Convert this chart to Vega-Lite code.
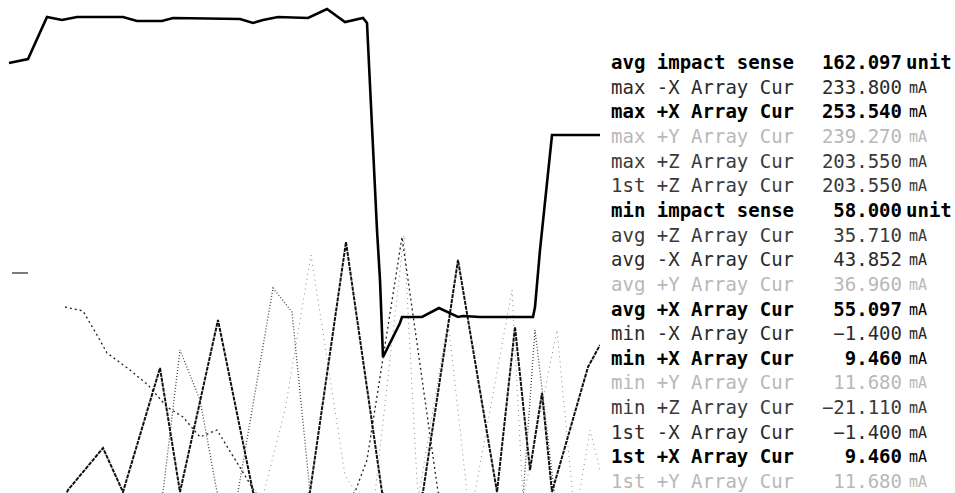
{
  "$schema": "https://vega.github.io/schema/vega-lite/v6.json",
  "padding": 0,
  "spacing": 0,
  "background": "white",
  "config": {"view": {"stroke": null}},
  "datasets": {
    "lines": [
      {"series": "impact", "seg": "a", "t": 9, "v": 430}, {"series": "impact", "seg": "a", "t": 28, "v": 434}, {"series": "impact", "seg": "a", "t": 47, "v": 476}, {"series": "impact", "seg": "a", "t": 62, "v": 473}, {"series": "impact", "seg": "a", "t": 77, "v": 476}, {"series": "impact", "seg": "a", "t": 123, "v": 476}, {"series": "impact", "seg": "a", "t": 137, "v": 472}, {"series": "impact", "seg": "a", "t": 162, "v": 472}, {"series": "impact", "seg": "a", "t": 173, "v": 475}, {"series": "impact", "seg": "a", "t": 240, "v": 474}, {"series": "impact", "seg": "a", "t": 253, "v": 470}, {"series": "impact", "seg": "a", "t": 263, "v": 473}, {"series": "impact", "seg": "a", "t": 278, "v": 476}, {"series": "impact", "seg": "a", "t": 308, "v": 475}, {"series": "impact", "seg": "a", "t": 327, "v": 484}, {"series": "impact", "seg": "a", "t": 345, "v": 471}, {"series": "impact", "seg": "a", "t": 363, "v": 475}, {"series": "impact", "seg": "a", "t": 367, "v": 470}, {"series": "impact", "seg": "a", "t": 377, "v": 263}, {"series": "impact", "seg": "a", "t": 380, "v": 213}, {"series": "impact", "seg": "a", "t": 383, "v": 136}, {"series": "impact", "seg": "a", "t": 400, "v": 170}, {"series": "impact", "seg": "a", "t": 402, "v": 176}, {"series": "impact", "seg": "a", "t": 422, "v": 176}, {"series": "impact", "seg": "a", "t": 439, "v": 185}, {"series": "impact", "seg": "a", "t": 458, "v": 176}, {"series": "impact", "seg": "a", "t": 463, "v": 177}, {"series": "impact", "seg": "a", "t": 480, "v": 176}, {"series": "impact", "seg": "a", "t": 533, "v": 176}, {"series": "impact", "seg": "a", "t": 535, "v": 186}, {"series": "impact", "seg": "a", "t": 540, "v": 243}, {"series": "impact", "seg": "a", "t": 552, "v": 358}, {"series": "impact", "seg": "a", "t": 600, "v": 358},

      {"series": "+X", "seg": "a", "t": 55, "v": -27}, {"series": "+X", "seg": "a", "t": 68, "v": 3}, {"series": "+X", "seg": "a", "t": 103, "v": 45}, {"series": "+X", "seg": "a", "t": 123, "v": 1}, {"series": "+X", "seg": "a", "t": 160, "v": 125}, {"series": "+X", "seg": "a", "t": 180, "v": 1}, {"series": "+X", "seg": "a", "t": 218, "v": 173}, {"series": "+X", "seg": "a", "t": 253, "v": 1}, {"series": "+X", "seg": "a", "t": 282, "v": -37}, {"series": "+X", "seg": "a", "t": 310, "v": 1}, {"series": "+X", "seg": "a", "t": 346, "v": 251}, {"series": "+X", "seg": "a", "t": 382, "v": 1}, {"series": "+X", "seg": "a", "t": 402, "v": -37}, {"series": "+X", "seg": "a", "t": 423, "v": 1}, {"series": "+X", "seg": "a", "t": 458, "v": 233}, {"series": "+X", "seg": "a", "t": 497, "v": 1}, {"series": "+X", "seg": "a", "t": 515, "v": 166}, {"series": "+X", "seg": "a", "t": 530, "v": 23}, {"series": "+X", "seg": "a", "t": 542, "v": 100}, {"series": "+X", "seg": "a", "t": 552, "v": 1}, {"series": "+X", "seg": "a", "t": 588, "v": 126}, {"series": "+X", "seg": "a", "t": 600, "v": 148},

      {"series": "-X", "seg": "a", "t": 12, "v": 220}, {"series": "-X", "seg": "a", "t": 28, "v": 220},
      {"series": "-X", "seg": "b", "t": 65, "v": 186}, {"series": "-X", "seg": "b", "t": 83, "v": 182}, {"series": "-X", "seg": "b", "t": 97, "v": 158}, {"series": "-X", "seg": "b", "t": 107, "v": 140}, {"series": "-X", "seg": "b", "t": 130, "v": 123}, {"series": "-X", "seg": "b", "t": 148, "v": 108}, {"series": "-X", "seg": "b", "t": 167, "v": 86}, {"series": "-X", "seg": "b", "t": 183, "v": 76}, {"series": "-X", "seg": "b", "t": 200, "v": 56}, {"series": "-X", "seg": "b", "t": 217, "v": 63}, {"series": "-X", "seg": "b", "t": 255, "v": 1}, {"series": "-X", "seg": "b", "t": 300, "v": -47}, {"series": "-X", "seg": "b", "t": 355, "v": 1}, {"series": "-X", "seg": "b", "t": 367, "v": 33}, {"series": "-X", "seg": "b", "t": 402, "v": 256}, {"series": "-X", "seg": "b", "t": 438, "v": 1}, {"series": "-X", "seg": "b", "t": 470, "v": -47},

      {"series": "+Z", "seg": "a", "t": 150, "v": -37}, {"series": "+Z", "seg": "a", "t": 163, "v": 1}, {"series": "+Z", "seg": "a", "t": 180, "v": 143}, {"series": "+Z", "seg": "a", "t": 200, "v": 93}, {"series": "+Z", "seg": "a", "t": 217, "v": 1}, {"series": "+Z", "seg": "a", "t": 228, "v": -30}, {"series": "+Z", "seg": "a", "t": 238, "v": 1}, {"series": "+Z", "seg": "a", "t": 273, "v": 205}, {"series": "+Z", "seg": "a", "t": 292, "v": 181}, {"series": "+Z", "seg": "a", "t": 310, "v": 1}, {"series": "+Z", "seg": "a", "t": 330, "v": -47}, {"series": "+Z", "seg": "a", "t": 520, "v": -47}, {"series": "+Z", "seg": "a", "t": 535, "v": 163}, {"series": "+Z", "seg": "a", "t": 543, "v": 96}, {"series": "+Z", "seg": "a", "t": 560, "v": -47},

      {"series": "+Y", "seg": "a", "t": 262, "v": -7}, {"series": "+Y", "seg": "a", "t": 285, "v": 83}, {"series": "+Y", "seg": "a", "t": 311, "v": 238}, {"series": "+Y", "seg": "a", "t": 345, "v": 18}, {"series": "+Y", "seg": "a", "t": 372, "v": -27}, {"series": "+Y", "seg": "a", "t": 404, "v": 258}, {"series": "+Y", "seg": "a", "t": 418, "v": -7}, {"series": "+Y", "seg": "a", "t": 448, "v": 173}, {"series": "+Y", "seg": "a", "t": 470, "v": -27}, {"series": "+Y", "seg": "a", "t": 512, "v": 203}, {"series": "+Y", "seg": "a", "t": 523, "v": -7}, {"series": "+Y", "seg": "a", "t": 557, "v": 163}, {"series": "+Y", "seg": "a", "t": 575, "v": -27}, {"series": "+Y", "seg": "a", "t": 590, "v": 63}, {"series": "+Y", "seg": "a", "t": 600, "v": 23}
    ],
    "stats": [
      {"row": 1, "label": "avg impact sense", "value": 162.097, "unit": "unit", "series": "impact", "bold": true},
      {"row": 2, "label": "max -X Array Cur", "value": 233.8, "unit": "mA", "series": "-X", "bold": false},
      {"row": 3, "label": "max +X Array Cur", "value": 253.54, "unit": "mA", "series": "+X", "bold": true},
      {"row": 4, "label": "max +Y Array Cur", "value": 239.27, "unit": "mA", "series": "+Y", "bold": false},
      {"row": 5, "label": "max +Z Array Cur", "value": 203.55, "unit": "mA", "series": "+Z", "bold": false},
      {"row": 6, "label": "1st +Z Array Cur", "value": 203.55, "unit": "mA", "series": "+Z", "bold": false},
      {"row": 7, "label": "min impact sense", "value": 58.0, "unit": "unit", "series": "impact", "bold": true},
      {"row": 8, "label": "avg +Z Array Cur", "value": 35.71, "unit": "mA", "series": "+Z", "bold": false},
      {"row": 9, "label": "avg -X Array Cur", "value": 43.852, "unit": "mA", "series": "-X", "bold": false},
      {"row": 10, "label": "avg +Y Array Cur", "value": 36.96, "unit": "mA", "series": "+Y", "bold": false},
      {"row": 11, "label": "avg +X Array Cur", "value": 55.097, "unit": "mA", "series": "+X", "bold": true},
      {"row": 12, "label": "min -X Array Cur", "value": -1.4, "unit": "mA", "series": "-X", "bold": false},
      {"row": 13, "label": "min +X Array Cur", "value": 9.46, "unit": "mA", "series": "+X", "bold": true},
      {"row": 14, "label": "min +Y Array Cur", "value": 11.68, "unit": "mA", "series": "+Y", "bold": false},
      {"row": 15, "label": "min +Z Array Cur", "value": -21.11, "unit": "mA", "series": "+Z", "bold": false},
      {"row": 16, "label": "1st -X Array Cur", "value": -1.4, "unit": "mA", "series": "-X", "bold": false},
      {"row": 17, "label": "1st +X Array Cur", "value": 9.46, "unit": "mA", "series": "+X", "bold": true},
      {"row": 18, "label": "1st +Y Array Cur", "value": 11.68, "unit": "mA", "series": "+Y", "bold": false}
    ]
  },
  "hconcat": [
    {
      "width": 600,
      "height": 493,
      "data": {"name": "lines"},
      "encoding": {
        "x": {"field": "t", "type": "quantitative", "scale": {"domain": [0, 600], "nice": false}, "axis": null},
        "y": {"field": "v", "type": "quantitative", "scale": {"domain": [0, 493], "nice": false}, "axis": null},
        "detail": {"field": "seg", "type": "nominal"}
      },
      "layer": [
        {"transform": [{"filter": "datum.series === '+Y'"}], "mark": {"type": "line", "clip": true, "color": "#8a8a8a", "strokeWidth": 1, "strokeDash": [1, 4]}},
        {"transform": [{"filter": "datum.series === '+Z'"}], "mark": {"type": "line", "clip": true, "color": "#444444", "strokeWidth": 1.3, "strokeDash": [1, 2]}},
        {"transform": [{"filter": "datum.series === '-X' && datum.seg === 'b'"}], "mark": {"type": "line", "clip": true, "color": "#222222", "strokeWidth": 1.3, "strokeDash": [2, 3]}},
        {"transform": [{"filter": "datum.series === '-X' && datum.seg === 'a'"}], "mark": {"type": "line", "clip": true, "color": "#333333", "strokeWidth": 1.3}},
        {"transform": [{"filter": "datum.series === '+X'"}], "mark": {"type": "line", "clip": true, "color": "#111111", "strokeWidth": 2, "strokeDash": [4, 1]}},
        {"transform": [{"filter": "datum.series === 'impact'"}], "mark": {"type": "line", "clip": true, "color": "#000000", "strokeWidth": 2.6, "strokeJoin": "miter"}}
      ]
    },
    {
      "width": 355,
      "height": 493,
      "data": {"name": "stats"},
      "encoding": {
        "y": {"field": "row", "type": "quantitative", "scale": {"domain": [-1.556, 18.444], "nice": false, "zero": false, "reverse": true}, "axis": null},
        "color": {"field": "series", "type": "nominal", "scale": {"domain": ["impact", "+X", "-X", "+Z", "+Y"], "range": ["#000000", "#000000", "#2a2a2a", "#3a3a3a", "#b8b8b8"]}, "legend": null}
      },
      "layer": [
        {"transform": [{"filter": "datum.bold"}], "mark": {"type": "text", "align": "left", "baseline": "middle", "font": "DejaVu Sans Mono", "fontSize": 19, "fontWeight": "bold"},
         "encoding": {"x": {"datum": 11, "type": "quantitative", "scale": {"domain": [0, 355], "nice": false}, "axis": null}, "text": {"field": "label"}}},
        {"transform": [{"filter": "!datum.bold"}], "mark": {"type": "text", "align": "left", "baseline": "middle", "font": "DejaVu Sans Mono", "fontSize": 19},
         "encoding": {"x": {"datum": 11, "type": "quantitative"}, "text": {"field": "label"}}},
        {"transform": [{"filter": "datum.bold"}], "mark": {"type": "text", "align": "right", "baseline": "middle", "font": "DejaVu Sans Mono", "fontSize": 19, "fontWeight": "bold"},
         "encoding": {"x": {"datum": 302, "type": "quantitative"}, "text": {"field": "value", "format": ".3f"}}},
        {"transform": [{"filter": "!datum.bold"}], "mark": {"type": "text", "align": "right", "baseline": "middle", "font": "DejaVu Sans Mono", "fontSize": 19},
         "encoding": {"x": {"datum": 302, "type": "quantitative"}, "text": {"field": "value", "format": ".3f"}}},
        {"transform": [{"filter": "datum.unit === 'unit'"}], "mark": {"type": "text", "align": "left", "baseline": "middle", "font": "DejaVu Sans Mono", "fontSize": 19, "fontWeight": "bold"},
         "encoding": {"x": {"datum": 306, "type": "quantitative"}, "text": {"field": "unit"}}},
        {"transform": [{"filter": "datum.unit === 'mA'"}], "mark": {"type": "text", "align": "left", "baseline": "middle", "font": "DejaVu Sans Mono", "fontSize": 15},
         "encoding": {"x": {"datum": 309, "type": "quantitative"}, "text": {"field": "unit"}}}
      ]
    }
  ]
}
